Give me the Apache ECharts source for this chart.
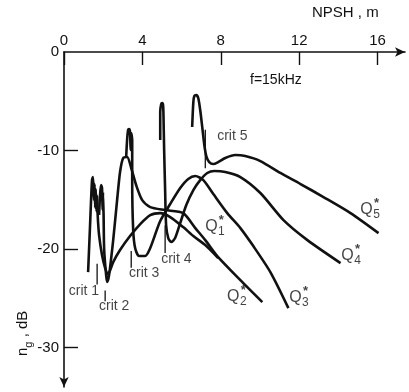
<!DOCTYPE html>
<html><head><meta charset="utf-8">
<script src="https://cdn.jsdelivr.net/npm/echarts@6/dist/echarts.min.js"></script>
<style>html,body{margin:0;padding:0;background:#fff}#c{width:409px;height:392px}</style>
</head><body><div id="c"></div>
<script>
// Axis ticks
const npshTicks = [0, 4, 8, 12, 16];
const dbTicks = [0, -10, -20, -30];

// Curves: [NPSH (m), noise level n_g (dB)]
const q1 = [[1.23,-22.34],[1.33,-17.56],[1.43,-13.0],[1.48,-12.69],[1.53,-15.03],[1.56,-13.4],[1.59,-15.8],[1.62,-13.9],[1.66,-16.2],[1.69,-14.6],[1.72,-16.6],[1.79,-18.58],[1.94,-20.61],[2.10,-21.93],[2.25,-22.54],[2.51,-21.32],[2.86,-20.10],[3.37,-18.68],[3.89,-17.46],[4.40,-16.55],[4.91,-16.35],[5.42,-16.75],[6.08,-17.77],[6.60,-18.68],[7.21,-19.59],[7.87,-20.91]];
const q2 = [[1.79,-16.55],[1.84,-14.52],[1.89,-13.50],[1.94,-13.81],[1.97,-16.04],[1.99,-14.21],[2.02,-16.55],[2.05,-20.10],[2.15,-22.64],[2.20,-23.35],[2.30,-22.64],[2.51,-19.09],[2.71,-15.03],[2.86,-12.18],[3.02,-10.76],[3.22,-10.66],[3.43,-11.78],[3.68,-13.50],[3.99,-15.03],[4.40,-15.74],[5.16,-16.04],[6.08,-16.35],[6.70,-17.87],[7.21,-19.09],[7.82,-20.71],[9.00,-23.15],[10.12,-25.38]];
const q3 = [[3.17,-10.76],[3.22,-8.93],[3.27,-7.92],[3.32,-7.82],[3.37,-8.12],[3.40,-9.95],[3.43,-8.22],[3.48,-8.93],[3.48,-13.0],[3.53,-18.07],[3.63,-19.90],[3.83,-20.71],[4.14,-20.71],[4.40,-19.90],[4.91,-17.16],[5.42,-15.43],[5.93,-13.81],[6.34,-12.89],[6.70,-12.59],[7.11,-13.0],[7.62,-14.42],[8.33,-16.35],[9.00,-17.87],[9.66,-19.70],[10.53,-22.34],[11.45,-25.99]];
const q4 = [[4.91,-8.93],[4.91,-6.09],[4.96,-5.28],[5.01,-5.18],[5.06,-5.48],[5.09,-7.92],[5.11,-9.95],[5.16,-14.01],[5.21,-17.56],[5.32,-18.88],[5.47,-19.29],[5.67,-18.88],[5.93,-17.36],[6.24,-15.53],[6.60,-14.01],[6.95,-13.0],[7.31,-12.28],[7.67,-12.08],[8.23,-12.18],[9.00,-12.69],[10.02,-14.31],[11.20,-17.06],[12.42,-19.09],[14.11,-21.42]];
const q5 = [[6.54,-7.61],[6.60,-5.08],[6.65,-4.47],[6.75,-4.37],[6.85,-4.67],[6.95,-5.89],[7.06,-7.72],[7.16,-9.44],[7.26,-10.56],[7.41,-11.17],[7.62,-11.37],[7.87,-11.17],[8.23,-10.76],[8.74,-10.46],[9.25,-10.56],[10.02,-11.07],[11.04,-12.28],[12.07,-13.40],[13.24,-14.72],[14.62,-16.35],[16.05,-18.38]];

// Critical points: NPSH, tick top/bottom (dB), label anchor
const critNames = ['crit 1', 'crit 2', 'crit 3', 'crit 4', 'crit 5'];
const critNpsh = [1.69, 2.10, 3.43, 5.16, 7.21];
const critTop = [-21.5, -24.2, -20.2, -17.6, -7.9];
const critBottom = [-23.6, -25.3, -21.9, -20.4, -11.8];
const critLabelNpsh = [1.02, 2.56, 4.09, 5.73, 8.59];
const critLabelDb = [-24.26, -25.79, -22.44, -21.02, -8.53];

// Curve labels Q*_i
const qIndex = ['1', '2', '3', '4', '5'];
const qLabelNpsh = [7.52, 8.64, 11.81, 14.47, 15.44];
const qLabelDb = [-17.77, -24.87, -24.97, -20.71, -16.04];

const FONT = 'Liberation Sans';
const INK = '#111';

const chart = echarts.init(document.getElementById('c'), null, {renderer: 'canvas'});

const curveSeries = [q1, q2, q3, q4, q5].map((d, i) => ({
  type: 'line', name: 'Q' + (i + 1), data: d, showSymbol: false, smooth: 0.25,
  lineStyle: {color: INK, width: 2.6}, silent: true, z: 3
}));

const critSeries = critNpsh.map((x, i) => ({
  type: 'line', data: [[x, critTop[i]], [x, critBottom[i]]], showSymbol: false,
  lineStyle: {color: INK, width: 1.3}, silent: true
}));

const critLabelSeries = {
  type: 'scatter', symbolSize: 0, silent: true,
  data: critNames.map((n, i) => ({value: [critLabelNpsh[i], critLabelDb[i]], name: n})),
  label: {show: true, position: 'inside', formatter: p => p.name, color: INK, fontFamily: FONT, fontSize: 14}
};

const qAnchors = qIndex.map((n, i) => ({value: [qLabelNpsh[i], qLabelDb[i]], name: n}));
const qLabelSeries = [
  {type: 'scatter', symbolSize: 0, silent: true, data: qAnchors,
   label: {show: true, position: 'inside', formatter: 'Q', color: INK, fontFamily: FONT, fontSize: 16}},
  {type: 'scatter', symbolSize: 0, silent: true, data: qAnchors,
   label: {show: true, position: 'inside', offset: [10, 5], formatter: p => p.name, color: INK, fontFamily: FONT, fontSize: 12}},
  {type: 'scatter', symbolSize: 0, silent: true, data: qAnchors,
   label: {show: true, position: 'inside', offset: [10, -7], formatter: '*', color: INK, fontFamily: FONT, fontSize: 13, fontWeight: 'bold'}}
];

chart.setOption({
  animation: false,
  backgroundColor: '#fff',
  grid: {left: 64, right: 4, top: 52, bottom: 5, containLabel: false},
  xAxis: {
    type: 'value', position: 'top', min: 0, max: 17.4,
    axisLine: {show: true, onZero: false, symbol: ['none', 'arrow'], symbolSize: [7, 10], lineStyle: {color: INK, width: 1.6}},
    axisTick: {show: true, inside: true, length: 13, lineStyle: {color: INK, width: 1.4}, customValues: npshTicks},
    axisLabel: {color: INK, fontFamily: FONT, fontSize: 15, margin: 4, customValues: npshTicks,
      formatter: v => (npshTicks.indexOf(v) >= 0 ? String(v) : '')},
    splitLine: {show: false}
  },
  yAxis: {
    type: 'value', min: -34, max: 0,
    axisLine: {show: true, onZero: false, symbol: ['arrow', 'none'], symbolSize: [7, 10], lineStyle: {color: INK, width: 1.6}},
    axisTick: {show: true, inside: true, length: 14, lineStyle: {color: INK, width: 1.4}, customValues: dbTicks.slice(1)},
    axisLabel: {color: INK, fontFamily: FONT, fontSize: 15, margin: 5, customValues: dbTicks,
      formatter: v => (dbTicks.indexOf(v) >= 0 ? String(v) : '')},
    splitLine: {show: false}
  },
  graphic: [
    {type: 'text', left: 312, top: 5, style: {text: 'NPSH , m', fill: INK, font: '15px "Liberation Sans"'}},
    {type: 'text', left: 250, top: 73, style: {text: 'f=15kHz', fill: INK, font: '14px "Liberation Sans"'}},
    {type: 'text', x: 12, y: 356, rotation: Math.PI / 2,
     style: {text: '{n|n}{g|g}{t| , dB}', fill: INK,
       rich: {n: {fontSize: 15, fontFamily: FONT, lineHeight: 22, verticalAlign: 'middle'},
              g: {fontSize: 11, fontFamily: FONT, lineHeight: 22, verticalAlign: 'bottom'},
              t: {fontSize: 15, fontFamily: FONT, lineHeight: 22, verticalAlign: 'middle'}}}}
  ],
  series: [...curveSeries, ...critSeries, critLabelSeries, ...qLabelSeries]
});
</script></body></html>
